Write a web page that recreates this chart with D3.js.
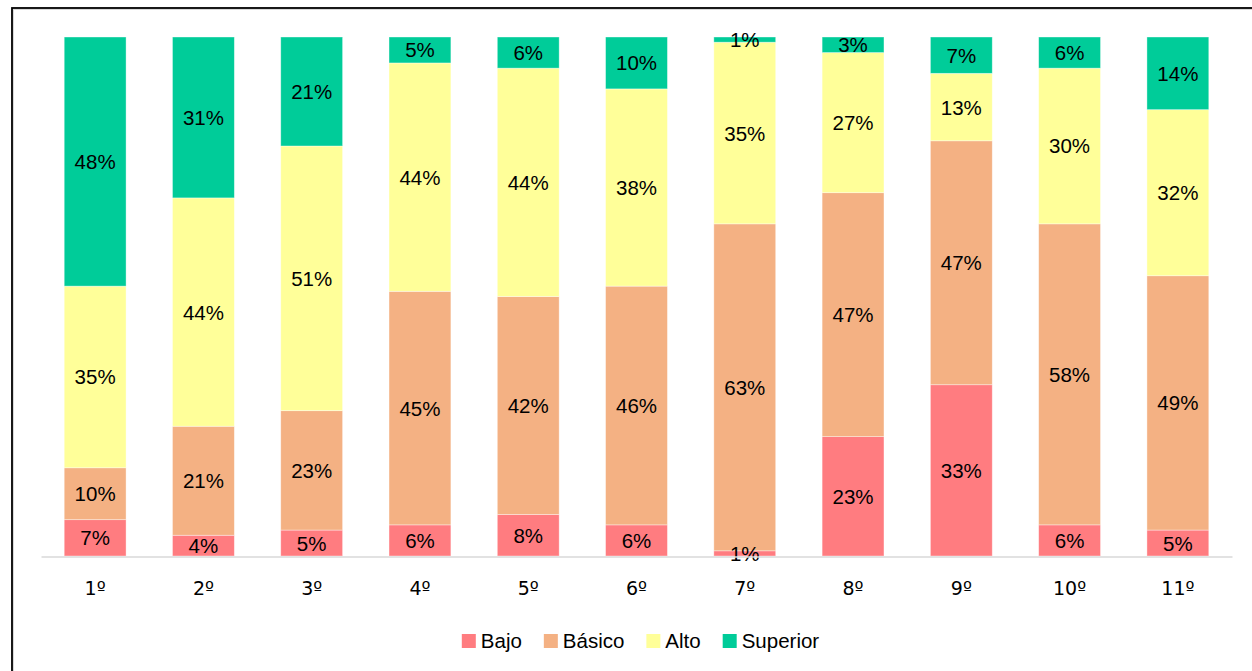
<!DOCTYPE html>
<html><head><meta charset="utf-8">
<script src="https://cdn.jsdelivr.net/npm/d3@7/dist/d3.min.js"></script>
<style>body{margin:0;background:#fff}svg{display:block}text{font-family:"Liberation Sans",Arial,sans-serif}</style>
</head><body><svg id="c" width="1252" height="671"></svg>
<script>
const categories = ["1º","2º","3º","4º","5º","6º","7º","8º","9º","10º","11º"];
const seriesNames = ["Bajo","Básico","Alto","Superior"];
const bajo     = [7, 4, 5, 6, 8, 6, 1, 23, 33, 6, 5];
const basico   = [10, 21, 23, 45, 42, 46, 63, 47, 47, 58, 49];
const alto     = [35, 44, 51, 44, 44, 38, 35, 27, 13, 30, 32];
const superior = [48, 31, 21, 5, 6, 10, 1, 3, 7, 6, 14];
const colors = ["#FF7C80","#F4B183","#FFFF99","#00CC99"];

const svg = d3.select("#c");
// frame
svg.append("rect").attr("x",13.5).attr("y",9.5).attr("width",1400).attr("height",800)
  .attr("fill","none").attr("stroke","#d9d9d9").attr("stroke-width",1);
svg.append("rect").attr("x",12).attr("y",8).attr("width",1400).attr("height",800)
  .attr("fill","none").attr("stroke","#000").attr("stroke-width",1.8);

const rows = categories.map((c,i)=>({cat:c, Bajo:bajo[i], "Básico":basico[i], Alto:alto[i], Superior:superior[i]}));
const stack = d3.stack().keys(seriesNames)(rows);

const x = d3.scaleBand().domain(categories).range([41,1232]).paddingInner(0.4286).paddingOuter(0.2143);
const y = d3.scaleLinear().domain([0,100]).range([556,37]);
const color = d3.scaleOrdinal().domain(seriesNames).range(colors);

const g = svg.append("g");
stack.forEach(layer=>{
  const lg = g.append("g");
  lg.selectAll("rect").data(layer).join("rect")
    .attr("x",d=>x(d.data.cat)).attr("width",x.bandwidth())
    .attr("y",d=>y(d[1])).attr("height",d=>y(d[0])-y(d[1]))
    .attr("fill",color(layer.key))
    .attr("stroke","#fff").attr("stroke-opacity",0.5).attr("stroke-width",0.75);
});
stack.forEach(layer=>{
  g.append("g").selectAll("text").data(layer).join("text")
    .attr("x",d=>x(d.data.cat)+x.bandwidth()/2)
    .attr("y",d=>(y(d[0])+y(d[1]))/2)
    .attr("text-anchor","middle").attr("dominant-baseline","central")
    .attr("font-size",20.5).attr("fill","#000")
    .text(d=>(d[1]-d[0])+"%");
});

// axis
const ax = svg.append("g").attr("transform","translate(0,556.5)")
  .call(d3.axisBottom(x).tickSize(0).tickPadding(0));
ax.select(".domain").attr("stroke","#d9d9d9").attr("stroke-width",1.5);
ax.selectAll("text").style("font-size","19px").attr("fill","#000").style("font-family","'DejaVu Sans',sans-serif")
  .attr("dy",null).attr("y",31).attr("dominant-baseline","central");

// legend
const lgd = svg.append("g");
let cx = 0;
seriesNames.forEach((n,i)=>{
  const it = lgd.append("g").attr("transform",`translate(${cx},0)`);
  it.append("rect").attr("x",0).attr("y",-6.5).attr("width",14).attr("height",14).attr("fill",colors[i]);
  const t = it.append("text").attr("x",19).attr("y",0).attr("dominant-baseline","central")
    .attr("font-size",20.5).attr("fill","#000").text(n);
  const w = t.node().getComputedTextLength();
  cx += 19 + w + 22;
});
const total = cx - 22;
lgd.attr("transform",`translate(${640.5-total/2},640.5)`);
</script></body></html>
